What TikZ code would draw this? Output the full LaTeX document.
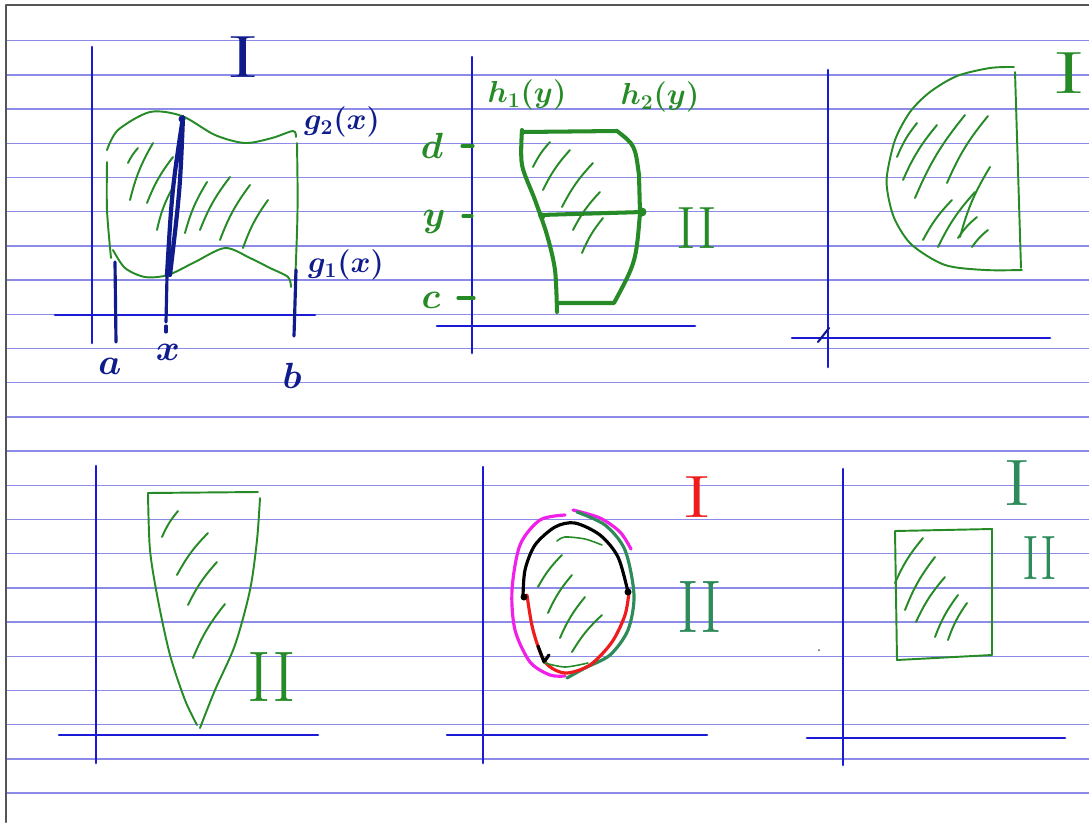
\documentclass[tikz,border=0pt]{standalone}
\usepackage{xcolor}
\usepackage{graphicx}
\usepackage{tikz}
\usetikzlibrary{calc}
\definecolor{NoteRule}{HTML}{8C8CE8}
\definecolor{NoteAxis}{HTML}{1A1AD4}
\definecolor{NoteNavy}{HTML}{101C8C}
\definecolor{NoteGreen}{HTML}{268A26}
\definecolor{NoteTeal}{HTML}{2E8B5A}
\definecolor{NoteRed}{HTML}{EE1C1C}
\definecolor{NoteMagenta}{HTML}{F020E8}
\definecolor{NoteFrame}{HTML}{555555}

\begin{document}
\begin{tikzpicture}[x=0.02cm,y=-0.02cm,line cap=round,line join=round]
  \tikzset{ruled/.style={NoteRule,line width=0.7pt},
    axis/.style={NoteAxis,line width=1.5pt},
    outline/.style={NoteGreen,line width=1.1pt},
    heavy/.style={NoteGreen,line width=2.3pt},
    hatch/.style={NoteGreen,line width=1.1pt},
    pen/.style={line width=1.8pt},
    numeral/.style={inner sep=0pt,font=\fontsize{34}{34}\selectfont},
    letter/.style={inner sep=0pt,font=\fontsize{20}{22}\selectfont\boldmath},
    fnlabel/.style={inner sep=0pt,font=\fontsize{18}{20}\selectfont\boldmath}}
  \useasboundingbox (0,0) rectangle (1089,822);
  \clip (0,0) rectangle (1089,822);
  \fill[white] (0,0) rectangle (1089,822);
  % ruled paper
  \foreach \k in {0,...,22}
    \draw[ruled] (6,{40.7+34.2*\k}) -- (1089,{40.7+34.2*\k});
  \draw[NoteFrame,line width=1.2pt] (6,822) -- (6,5) -- (1089,5);

  % panel 1: region between g1 and g2
  \draw[axis] (92,47) -- (92,343);
  \draw[axis] (55,315) -- (315,315);
  \draw[outline] plot[smooth] coordinates {(107,150) (118,130) (150,112) (182,116) (215,135) (245,143) (272,138) (293,131) (296,137)};
  \draw[outline] (297,143) .. controls (298,210) .. (295,285);
  \draw[outline] plot[smooth] coordinates {(107,162) (107,210) (111,258)};
  \draw[outline] plot[smooth] coordinates {(113,250) (125,268) (145,277) (168,275) (195,262) (225,248) (250,258) (270,268) (288,277) (291,287)};
  \foreach \a/\b/\c/\d in {128/163/138/148, 130/200/153/143, 147/203/173/157, 157/230/173/187,
      185/233/207/182, 200/230/230/177, 220/240/250/185, 243/248/268/200}
    \draw[hatch] (\a,\b) to[bend left=8] (\c,\d);
  \draw[NoteNavy,line width=2.4pt] (167,275) .. controls (172,190) .. (183,117) .. controls (180,190) .. (170,275);
  \fill[NoteNavy] (182,119) circle (3.5);
  \draw[NoteNavy,pen] (167,276) -- (166,322);
  \draw[NoteNavy,pen] (166,326) -- (166,332);
  \draw[NoteNavy,pen] (115,262) -- (116,342);
  \draw[NoteNavy,pen] (296,270) -- (294,336);
  \node[numeral,NoteNavy] (romanA) at (243,57) {\scalebox{1.7}[1]{I}};
  \node[letter,NoteNavy] (lowA) at (110,366) {$a$};
  \node[letter,NoteNavy] (pointX) at (168,352) {$x$};
  \node[letter,NoteNavy] (lowB) at (292,376) {$b$};
  \node[fnlabel,NoteNavy] (upperG) at (342,122) {$g_2(x)$};
  \node[fnlabel,NoteNavy] (lowerG) at (346,265) {$g_1(x)$};

  % panel 2: region between h1 and h2
  \draw[axis] (472,57) -- (472,353);
  \draw[axis] (437,326) -- (695,326);
  \draw[heavy] (522,132) -- (617,131) .. controls (635,145) .. (639,175) -- (640,213) .. controls (636,262) .. (614,303) -- (557,303);
  \draw[heavy] plot[smooth] coordinates {(522,130) (522,165) (535,200) (547,235) (555,270) (557,312)};
  \draw[heavy] (540,215) -- (643,212);
  \fill[NoteGreen] (542,216) circle (3.5) (642,212) circle (4.5);
  \foreach \a/\b/\c/\d in {533/167/550/142, 543/190/570/150, 562/207/593/163, 573/230/600/192, 582/253/603/218}
    \draw[hatch] (\a,\b) to[bend left=8] (\c,\d);
  \draw[NoteGreen,pen] (462,146) -- (473,146);
  \draw[NoteGreen,pen] (463,216) -- (472,216);
  \draw[NoteGreen,pen] (458,298) -- (474,298);
  \node[letter,NoteGreen] (topD) at (432,146) {$d$};
  \node[letter,NoteGreen] (levelY) at (434,222) {$y$};
  \node[letter,NoteGreen] (botC) at (431,300) {$c$};
  \node[fnlabel,NoteGreen] (leftH) at (527,95) {$h_1(y)$};
  \node[fnlabel,NoteGreen] (rightH) at (660,97) {$h_2(y)$};
  \node[numeral,NoteGreen] (romanB) at (697,228) {\scalebox{1.0}[1]{II}};

  % panel 3: half disc
  \draw[axis] (828,70) -- (828,367);
  \draw[axis] (792,338) -- (1050,338);
  \draw[NoteNavy,line width=1.2pt] (818,342) -- (829,328);
  \draw[outline] plot[smooth] coordinates {(1014,67) (990,68) (957,76) (930,92) (910,112) (895,140) (887,175) (888,195) (895,220) (912,245) (945,265) (985,270) (1022,270)};
  \draw[outline] (1015,72) -- (1021,268);
  \foreach \a/\b/\c/\d in {897/157/917/123, 903/180/937/125, 915/198/965/115, 947/183/988/116,
      923/240/952/200, 938/247/975/192, 960/237/990/167, 958/238/977/217, 972/247/988/230}
    \draw[hatch] (\a,\b) to[bend left=8] (\c,\d);
  \node[numeral,NoteGreen] (romanC) at (1069,73) {\scalebox{1.7}[1]{I}};

  % panel 4: wedge
  \draw[axis] (96,466) -- (96,763);
  \draw[axis] (59,735) -- (318,735);
  \draw[outline] (148,493) -- (258,492);
  \draw[outline] plot[smooth] coordinates {(260,498) (257,540) (250,590) (235,645) (215,690) (200,728)};
  \draw[outline] plot[smooth] coordinates {(148,493) (150,550) (158,600) (170,655) (185,700) (197,725)};
  \foreach \a/\b/\c/\d in {162/537/178/511, 177/575/208/533, 188/605/217/562, 193/658/225/604}
    \draw[hatch] (\a,\b) to[bend left=8] (\c,\d);
  \node[numeral,NoteGreen] (romanD) at (272,677) {\scalebox{1.2}[1.2]{II}};

  % panel 5: oval
  \draw[axis] (483,467) -- (483,763);
  \draw[axis] (447,735) -- (707,735);
  \draw[NoteMagenta,pen] plot[smooth] coordinates {(565,515) (540,520) (520,545) (512,590) (515,630) (530,662) (550,675) (565,676)};
  \draw[NoteMagenta,pen] plot[smooth] coordinates {(573,510) (600,518) (620,532) (631,549)};
  \draw[NoteTeal,pen] plot[smooth] coordinates {(577,512) (605,525) (625,550) (634,595) (628,630) (610,655) (585,668) (567,678)};
  \draw[black,pen] plot[smooth] coordinates {(523,597) (525,570) (535,545) (555,527) (575,523) (600,535) (618,557) (628,592)};
  \draw[NoteRed,pen] plot[smooth] coordinates {(527,595) (533,630) (545,662) (565,673) (590,665) (612,642) (625,615) (629,592)};
  \fill[black] (524,597) circle (3.5) (628,592) circle (3.5);
  \draw[black,pen] (538,646) -- (544,662) -- (549,655);
  \draw[NoteGreen,line width=0.9pt] plot[smooth] coordinates {(557,541) (565,537) (585,539) (602,545)};
  \draw[NoteGreen,line width=0.9pt] plot[smooth] coordinates {(545,663) (565,667) (588,663)};
  \foreach \a/\b/\c/\d in {538/587/562/555, 548/613/572/575, 560/638/585/597, 572/652/602/615}
    \draw[hatch] (\a,\b) to[bend left=8] (\c,\d);
  \node[numeral,NoteRed] (romanE) at (697,497) {\scalebox{1.5}[1]{I}};
  \node[numeral,NoteTeal] (romanF) at (700,607) {\scalebox{1.1}[1.25]{II}};

  % panel 6: rectangle
  \draw[axis] (843,469) -- (843,765);
  \draw[axis] (807,738) -- (1065,738);
  \fill[NoteFrame] (819,650) circle (1);
  \draw[outline] (895,531) -- (992,529) -- (992,655) -- (897,660) -- cycle;
  \foreach \a/\b/\c/\d in {895/583/923/538, 905/610/935/557, 916/622/945/577, 935/637/958/595, 948/640/967/603}
    \draw[hatch] (\a,\b) to[bend left=8] (\c,\d);
  \node[numeral,NoteTeal] (romanG) at (1017,483) {\scalebox{1.4}[1.1]{I}};
  \node[numeral,NoteTeal] (romanH) at (1040,558) {\scalebox{0.85}[1.05]{II}};
\end{tikzpicture}
\end{document}
